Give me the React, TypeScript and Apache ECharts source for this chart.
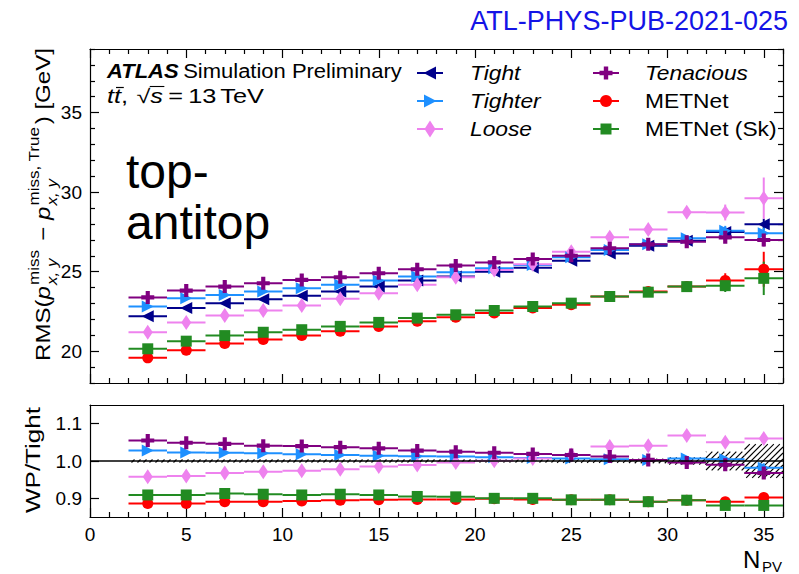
import React, { useEffect, useRef } from "react";
import * as echarts from "echarts";

const FONT = "'Liberation Sans', Arial, Helvetica, sans-serif";

// ---------------- data ----------------
const npv = [3, 5, 7, 9, 11, 13, 15, 17, 19, 21, 23, 25, 27, 29, 31, 33, 35];
const binHalfWidth = 1;

const rmsTight = [22.19, 22.71, 23.02, 23.27, 23.48, 23.75, 24.06, 24.44, 24.69, 25.0, 25.25, 25.69, 26.15, 26.63, 26.95, 27.5, 27.98];
const rmsTighter = [22.81, 23.33, 23.54, 23.75, 23.96, 24.17, 24.44, 24.69, 24.96, 25.21, 25.42, 25.9, 26.36, 26.72, 27.1, 27.58, 27.42];
const rmsLoose = [21.19, 21.81, 22.25, 22.56, 22.88, 23.29, 23.65, 24.17, 24.65, 25.1, 25.46, 26.26, 27.16, 27.65, 28.74, 28.72, 29.62];
const rmsTenacious = [23.38, 23.81, 24.06, 24.27, 24.48, 24.65, 24.9, 25.15, 25.38, 25.58, 25.79, 26.0, 26.47, 26.72, 26.88, 27.16, 26.99];
const rmsMETNet = [19.58, 20.06, 20.48, 20.73, 20.98, 21.25, 21.56, 21.88, 22.13, 22.4, 22.71, 22.92, 23.44, 23.75, 24.06, 24.45, 25.15];
const rmsMETNetSk = [20.15, 20.63, 20.98, 21.19, 21.35, 21.56, 21.81, 22.08, 22.29, 22.56, 22.81, 23.02, 23.44, 23.71, 24.06, 24.12, 24.58];

const errTight = [0.05, 0.05, 0.05, 0.05, 0.05, 0.05, 0.06, 0.06, 0.07, 0.08, 0.09, 0.1, 0.12, 0.15, 0.2, 0.3, 0.35];
const errTighter = [0.05, 0.05, 0.05, 0.05, 0.05, 0.05, 0.06, 0.06, 0.07, 0.08, 0.09, 0.1, 0.12, 0.15, 0.2, 0.3, 0.35];
const errLoose = [0.05, 0.05, 0.05, 0.05, 0.05, 0.06, 0.06, 0.07, 0.08, 0.09, 0.1, 0.12, 0.15, 0.2, 0.3, 0.5, 1.3];
const errTenacious = [0.05, 0.05, 0.05, 0.05, 0.05, 0.05, 0.06, 0.06, 0.07, 0.08, 0.09, 0.1, 0.12, 0.15, 0.2, 0.35, 0.4];
const errMETNet = [0.05, 0.05, 0.05, 0.05, 0.05, 0.05, 0.06, 0.06, 0.07, 0.08, 0.09, 0.1, 0.12, 0.15, 0.25, 0.45, 1.1];
const errMETNetSk = [0.05, 0.05, 0.05, 0.05, 0.05, 0.05, 0.06, 0.06, 0.07, 0.08, 0.09, 0.1, 0.12, 0.15, 0.25, 0.4, 1.05];

const ratioTighter = [1.028, 1.023, 1.022, 1.021, 1.018, 1.016, 1.014, 1.013, 1.012, 1.01, 1.008, 1.007, 1.005, 1.003, 1.007, 1.005, 0.982];
const ratioLoose = [0.958, 0.96, 0.968, 0.971, 0.974, 0.978, 0.985, 0.989, 0.996, 1.001, 1.007, 1.016, 1.039, 1.041, 1.068, 1.05, 1.06];
const ratioTenacious = [1.055, 1.049, 1.046, 1.041, 1.04, 1.037, 1.034, 1.028, 1.025, 1.022, 1.019, 1.016, 1.012, 1.003, 0.996, 0.99, 0.968];
const ratioMETNet = [0.886, 0.886, 0.891, 0.891, 0.893, 0.895, 0.896, 0.897, 0.897, 0.899, 0.897, 0.896, 0.896, 0.891, 0.895, 0.891, 0.902];
const ratioMETNetSk = [0.909, 0.909, 0.913, 0.911, 0.909, 0.911, 0.909, 0.905, 0.904, 0.9, 0.9, 0.896, 0.896, 0.891, 0.895, 0.881, 0.881];
const ratioStatErr = [0.002, 0.002, 0.002, 0.002, 0.002, 0.002, 0.002, 0.002, 0.003, 0.003, 0.003, 0.004, 0.004, 0.005, 0.006, 0.008, 0.012];
const ratioTightBand = [0.004, 0.004, 0.004, 0.004, 0.004, 0.004, 0.004, 0.004, 0.004, 0.004, 0.004, 0.005, 0.005, 0.006, 0.01, 0.025, 0.045];

const xMajorTicks = [0, 5, 10, 15, 20, 25, 30, 35];
const xMinorTicks = [1, 2, 3, 4, 6, 7, 8, 9, 11, 12, 13, 14, 16, 17, 18, 19, 21, 22, 23, 24, 26, 27, 28, 29, 31, 32, 33, 34, 36];
const yTopMajorTicks = [20, 25, 30, 35];
const yTopMinorTicks = [18, 19, 21, 22, 23, 24, 26, 27, 28, 29, 31, 32, 33, 34, 36, 37, 38, 39];
const yRatioTicks = [0.9, 1.0, 1.1];

const seriesNames = ["Tight", "Tighter", "Loose", "Tenacious", "METNet", "METNet (Sk)"];

// ---------------- style ----------------
const COLORS: Record<string, string> = {
  Tight: "#00008b",
  Tighter: "#1e90ff",
  Loose: "#ee82ee",
  Tenacious: "#800080",
  METNet: "#ff0000",
  "METNet (Sk)": "#228b22",
};
const SYMBOLS: Record<string, any> = {
  Tight: { symbol: "path://M0,5L10,0L10,10Z", size: 12 },
  Tighter: { symbol: "path://M10,5L0,0L0,10Z", size: 12 },
  Loose: { symbol: "diamond", size: [10, 15] },
  Tenacious: { symbol: "path://M3.4,0H6.6V3.4H10V6.6H6.6V10H3.4V6.6H0V3.4H3.4Z", size: 13 },
  METNet: { symbol: "circle", size: 11 },
  "METNet (Sk)": { symbol: "rect", size: 11 },
};

let measureCtx: CanvasRenderingContext2D | null = null;
function measure(text: string, size: number, italic = false, bold = false): number {
  if (!measureCtx) measureCtx = document.createElement("canvas").getContext("2d");
  measureCtx!.font = `${italic ? "italic " : ""}${bold ? "bold " : ""}${size}px ${FONT}`;
  return measureCtx!.measureText(text).width;
}

function txt(text: string, x: number, baseline: number, size: number, opts: any = {}) {
  return {
    type: "text",
    x,
    y: baseline - 0.35 * size,
    silent: true,
    style: {
      text,
      fill: opts.fill || "#000",
      fontSize: size,
      fontFamily: FONT,
      fontStyle: opts.italic ? "italic" : "normal",
      fontWeight: opts.bold ? "bold" : "normal",
      align: opts.align || "left",
      verticalAlign: "middle",
    },
  };
}

function errRender(color: string) {
  return (params: any, api: any) => {
    const x = api.value(0), y = api.value(1), e = api.value(2);
    const l = api.coord([x - binHalfWidth, y]);
    const r = api.coord([x + binHalfWidth, y]);
    const t = api.coord([x, y + e]);
    const b = api.coord([x, y - e]);
    return {
      type: "group",
      children: [
        { type: "line", shape: { x1: l[0], y1: l[1], x2: r[0], y2: r[1] }, style: { stroke: color, lineWidth: 2 } },
        { type: "line", shape: { x1: t[0], y1: t[1], x2: b[0], y2: b[1] }, style: { stroke: color, lineWidth: 2 } },
      ],
    };
  };
}

function hatchRender(params: any, api: any) {
  const x = api.value(0), e = api.value(1);
  const p0 = api.coord([x - binHalfWidth, 1 + e]);
  const p1 = api.coord([x + binHalfWidth, 1 - e]);
  const x0 = p0[0], y0 = p0[1], x1 = p1[0], y1 = p1[1];
  const s = 6;
  const children: any[] = [];
  for (let c = Math.ceil((x0 + y0) / s) * s; c <= x1 + y1; c += s) {
    const xa = Math.max(x0, c - y1);
    const xb = Math.min(x1, c - y0);
    if (xb > xa) {
      children.push({ type: "line", shape: { x1: xa, y1: c - xa, x2: xb, y2: c - xb }, style: { stroke: "#000", lineWidth: 1.1 } });
    }
  }
  return { type: "group", children };
}

function mkAxis(gridIndex: number, position: string, min: number, max: number, ticks: number[] | null, len: number, showLine: boolean, labels: number[] | null, fmt?: (v: number) => string) {
  const ax: any = {
    type: "value",
    gridIndex,
    position,
    min,
    max,
    axisLine: { show: showLine, onZero: false, lineStyle: { color: "#000", width: 1.2 } },
    axisTick: ticks
      ? { show: true, inside: true, length: len, customValues: ticks, lineStyle: { color: "#000", width: 1.2 } }
      : { show: false },
    axisLabel: labels
      ? { show: true, customValues: labels, fontSize: 19, fontFamily: FONT, color: "#000", margin: 8 }
      : { show: false },
    splitLine: { show: false },
    minorTick: { show: false },
  };
  if (labels && fmt) ax.axisLabel.formatter = fmt;
  return ax;
}

function buildGraphics() {
  const g: any[] = [];
  // Title
  g.push(txt("ATL-PHYS-PUB-2021-025", 788, 30, 27, { fill: "#1414e6", align: "right" }));

  // ATLAS label
  const F1 = 19.5;
  const wAtlas = measure("ATLAS", F1, true, true);
  const wSim = measure("Simulation Preliminary", F1);
  const k1 = 295 / (wAtlas + 4 + wSim);
  g.push({
    type: "group",
    x: 107,
    y: 78,
    scaleX: k1,
    children: [
      txt("ATLAS", 0, 0, F1, { italic: true, bold: true }),
      txt("Simulation Preliminary", wAtlas + 4, 0, F1),
    ],
  });
  const l2: any[] = [];
  let x = 0;
  const b2 = 0;
  l2.push(txt("t", x, b2, F1, { italic: true }));
  x += measure("t", F1, true);
  const xt2 = x;
  l2.push(txt("t", x, b2, F1, { italic: true }));
  x += measure("t", F1, true);
  l2.push({ type: "line", silent: true, shape: { x1: xt2 + 1.5, y1: b2 - 15.5, x2: xt2 + 7.5, y2: b2 - 15.5 }, style: { stroke: "#000", lineWidth: 1.2 } });
  l2.push(txt(",", x, b2, F1));
  x += measure(", ", F1) + 1;
  l2.push(txt("\u221a", x, b2, F1));
  x += measure("\u221a", F1);
  const xs = x;
  l2.push(txt("s", x, b2, F1, { italic: true }));
  x += measure("s", F1, true);
  l2.push({ type: "line", silent: true, shape: { x1: xs - 0.5, y1: b2 - 16.5, x2: x + 1, y2: b2 - 16.5 }, style: { stroke: "#000", lineWidth: 1.1 } });
  x += 4;
  l2.push(txt("=", x, b2, F1));
  x += measure("=", F1) + 4;
  l2.push(txt("13", x, b2, F1));
  x += measure("13", F1) + 3;
  l2.push(txt("TeV", x, b2, F1));
  x += measure("TeV", F1);
  g.push({ type: "group", x: 107, y: 103, scaleX: 157 / x, children: l2 });

  // Legend
  const FL = 20;
  const kL = 103 / measure("Tenacious", FL, true);
  const rows = [73, 101, 129];
  const cols = [{ mx: 430, tx: 470 }, { mx: 606, tx: 645 }];
  const italicNames: Record<string, boolean> = { Tight: true, Tighter: true, Loose: true, Tenacious: true };
  seriesNames.forEach((name, i) => {
    const col = cols[Math.floor(i / 3)];
    const cy = rows[i % 3];
    const cx = col.mx;
    const color = COLORS[name];
    g.push({ type: "line", silent: true, shape: { x1: cx - 13, y1: cy, x2: cx + 13, y2: cy }, style: { stroke: color, lineWidth: 2 } });
    let m: any;
    if (name === "Tight") m = { type: "polygon", shape: { points: [[cx - 6.5, cy], [cx + 6, cy - 6.5], [cx + 6, cy + 6.5]] } };
    else if (name === "Tighter") m = { type: "polygon", shape: { points: [[cx + 6.5, cy], [cx - 6, cy - 6.5], [cx - 6, cy + 6.5]] } };
    else if (name === "Loose") m = { type: "polygon", shape: { points: [[cx, cy - 8.5], [cx + 5.5, cy], [cx, cy + 8.5], [cx - 5.5, cy]] } };
    else if (name === "Tenacious") {
      const a = 6.5, w = 2.2;
      m = { type: "polygon", shape: { points: [[cx - w, cy - a], [cx + w, cy - a], [cx + w, cy - w], [cx + a, cy - w], [cx + a, cy + w], [cx + w, cy + w], [cx + w, cy + a], [cx - w, cy + a], [cx - w, cy + w], [cx - a, cy + w], [cx - a, cy - w], [cx - w, cy - w]] } };
    } else if (name === "METNet") m = { type: "circle", shape: { cx, cy, r: 6 } };
    else m = { type: "rect", shape: { x: cx - 5.5, y: cy - 5.5, width: 11, height: 11 } };
    m.silent = true;
    m.style = { fill: color };
    g.push(m);
    const t: any = txt(name, col.tx, cy + 7, FL, { italic: !!italicNames[name] });
    t.scaleX = kL;
    g.push(t);
  });

  // top-antitop
  g.push(txt("top-", 126, 188, 48));
  g.push(txt("antitop", 126, 239, 48));

  // Y title top panel
  const F = 20.5, S = 14.5;
  const kids: any[] = [];
  let px = 0;
  const put = (t: string, size: number, it: boolean, at: number, base: number) => {
    kids.push(txt(t, at, base, size, { italic: it }));
    return measure(t, size, it);
  };
  px += put("RMS(", F, false, px, 0);
  px += put("p", F, true, px, 0);
  let a = put("miss", S, false, px + 1, -0.52 * F);
  let bb = put("x, y", S, true, px + 1, 0.32 * F);
  px += Math.max(a, bb) + 3;
  px += put(" \u2212 ", F, false, px, 0);
  px += put("p", F, true, px, 0);
  a = put("miss, True", S, false, px + 1, -0.52 * F);
  bb = put("x, y", S, true, px + 1, 0.32 * F);
  px += Math.max(a, bb) + 3;
  px += put(") [GeV]", F, false, px, 0);
  g.push({ type: "group", x: 50, y: 361, rotation: Math.PI / 2, scaleX: 313 / px, children: kids });

  // Y title ratio panel
  const wpW = measure("WP/Tight", 21);
  g.push({
    type: "group",
    x: 40,
    y: 460,
    rotation: Math.PI / 2,
    scaleX: 106 / wpW,
    children: [txt("WP/Tight", -wpW / 2, 0, 21)],
  });

  // X title
  g.push(txt("N", 743, 568, 24));
  g.push(txt("PV", 762, 572, 15));
  return g;
}

function buildOption() {
  const xAxis = [
    mkAxis(0, "bottom", 0, 36, xMajorTicks, 9, true, null),
    mkAxis(0, "bottom", 0, 36, xMinorTicks, 5, false, null),
    mkAxis(0, "top", 0, 36, xMajorTicks, 9, true, null),
    mkAxis(0, "top", 0, 36, xMinorTicks, 5, false, null),
    mkAxis(1, "bottom", 0, 36, xMajorTicks, 9, true, xMajorTicks),
    mkAxis(1, "bottom", 0, 36, xMinorTicks, 5, false, null),
    mkAxis(1, "top", 0, 36, null, 0, true, null),
  ];
  const yAxis = [
    mkAxis(0, "left", 18, 39, yTopMajorTicks, 9, true, yTopMajorTicks),
    mkAxis(0, "left", 18, 39, yTopMinorTicks, 5, false, null),
    mkAxis(0, "right", 18, 39, yTopMajorTicks, 9, true, null),
    mkAxis(0, "right", 18, 39, yTopMinorTicks, 5, false, null),
    mkAxis(1, "left", 0.85, 1.15, yRatioTicks, 9, true, yRatioTicks, (v: number) => v.toFixed(1)),
    mkAxis(1, "right", 0.85, 1.15, null, 0, true, null),
  ];

  const topData: Record<string, [number[], number[]]> = {
    Tight: [rmsTight, errTight],
    Tighter: [rmsTighter, errTighter],
    Loose: [rmsLoose, errLoose],
    Tenacious: [rmsTenacious, errTenacious],
    METNet: [rmsMETNet, errMETNet],
    "METNet (Sk)": [rmsMETNetSk, errMETNetSk],
  };
  const ratioData: Record<string, number[]> = {
    Tighter: ratioTighter,
    Loose: ratioLoose,
    Tenacious: ratioTenacious,
    METNet: ratioMETNet,
    "METNet (Sk)": ratioMETNetSk,
  };

  const series: any[] = [];
  seriesNames.forEach((name) => {
    const [vals, errs] = topData[name];
    const color = COLORS[name];
    series.push({
      type: "custom",
      name,
      xAxisIndex: 0,
      yAxisIndex: 0,
      renderItem: errRender(color),
      encode: { x: 0, y: 1 },
      data: npv.map((x, i) => [x, vals[i], errs[i]]),
      silent: true,
    });
    series.push({
      type: "scatter",
      name,
      xAxisIndex: 0,
      yAxisIndex: 0,
      symbol: SYMBOLS[name].symbol,
      symbolSize: SYMBOLS[name].size,
      itemStyle: { color, opacity: 1 },
      data: npv.map((x, i) => [x, vals[i]]),
      silent: true,
    });
  });

  // ratio panel
  series.push({
    type: "custom",
    name: "Tight unc.",
    xAxisIndex: 4,
    yAxisIndex: 4,
    renderItem: hatchRender,
    encode: { x: 0, y: 1 },
    data: npv.map((x, i) => [x, ratioTightBand[i]]),
    silent: true,
  });
  series.push({
    type: "line",
    name: "unity",
    xAxisIndex: 4,
    yAxisIndex: 4,
    symbol: "none",
    lineStyle: { color: "#000", width: 1.3 },
    data: [[0, 1], [36, 1]],
    silent: true,
  });
  seriesNames.slice(1).forEach((name) => {
    const vals = ratioData[name];
    const color = COLORS[name];
    series.push({
      type: "custom",
      name: name + " ratio",
      xAxisIndex: 4,
      yAxisIndex: 4,
      renderItem: errRender(color),
      encode: { x: 0, y: 1 },
      data: npv.map((x, i) => [x, vals[i], ratioStatErr[i]]),
      silent: true,
    });
    series.push({
      type: "scatter",
      name: name + " ratio",
      xAxisIndex: 4,
      yAxisIndex: 4,
      symbol: SYMBOLS[name].symbol,
      symbolSize: SYMBOLS[name].size,
      itemStyle: { color, opacity: 1 },
      data: npv.map((x, i) => [x, vals[i]]),
      silent: true,
    });
  });

  return {
    animation: false,
    backgroundColor: "#ffffff",
    grid: [
      { left: 90, right: 16, top: 49, height: 334 },
      { left: 90, right: 16, top: 405, height: 112 },
    ],
    xAxis,
    yAxis,
    series,
    graphic: buildGraphics(),
  };
}

export default function App() {
  const ref = useRef<HTMLDivElement>(null);
  useEffect(() => {
    const chart = echarts.init(ref.current!, null, { renderer: "svg" });
    chart.setOption(buildOption() as any);
    return () => chart.dispose();
  }, []);
  return (
    <div
      ref={ref}
      style={{ position: "fixed", left: 0, top: 0, width: 799, height: 574, background: "#fff" }}
    />
  );
}
